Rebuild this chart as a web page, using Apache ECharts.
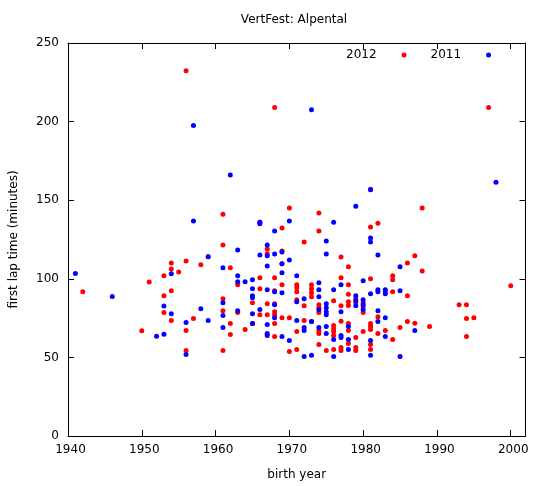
<!DOCTYPE html>
<html>
<head>
<meta charset="utf-8">
<script src="https://cdn.jsdelivr.net/npm/echarts@6/dist/echarts.min.js"></script>
<style>
html,body{margin:0;padding:0;background:#fff;}
#chart{width:534px;height:486px;}
</style>
</head>
<body>
<div id="chart"></div>
<script>
// Birth years and first-lap times (minutes), 2012 (red)
var years2012 = [1942,1950,1951,1953,1953,1953,1954,1954,1954,1954,1955,1956,1956,1956,1956,1957,1958,1959,
  1961,1961,1961,1961,1961,1962,1962,1962,1963,1963,1964,1965,1965,1966,1966,1966,1966,1967,1967,1967,1967,
  1968,1968,1968,1968,1968,1968,1968,1968,1969,1969,1969,1969,1969,1970,1970,1970,1971,1971,1971,1971,1971,1971,
  1972,1972,1972,1973,1973,1973,1973,1973,1974,1974,1974,1974,1974,1974,1974,1974,1975,
  1976,1976,1976,1976,1976,1976,1977,1977,1977,1977,1977,1977,1978,1978,1978,1978,1978,1978,1978,1978,
  1979,1979,1979,1979,1979,1980,1980,1980,1980,1981,1981,1981,1981,1981,1981,1981,1981,1982,1982,1982,
  1983,1983,1984,1984,1984,1984,1985,1986,1986,1986,1987,1987,1988,1988,1989,1993,1994,1994,1994,1995,1997,2000];
var laps2012 = [91.8,67,98,101.9,89.2,78.5,110,106.3,92.4,73.4,104.4,232.3,111.4,67.1,54.4,74.7,108.9,114,
  141.1,121.5,87.3,79.7,54.4,107,71.5,64.6,96.2,78.5,67.7,84.8,71.5,136,100.6,93.7,77.2,119,116,84.2,77.2,
  208.9,100.6,92.4,84.2,79.1,77.2,71.5,63.3,132.3,117.7,109.5,96.2,75.3,145,75.3,53.8,96.2,94.3,91.8,86.7,66.5,55.1,
  123.4,82.9,73.4,96.2,93.7,91.1,88.6,72.8,141.8,130.4,83.5,81.6,78.5,67.1,65.2,58.2,54.4,
  86.1,70.3,68.4,66.5,63.9,55.1,113.9,100.6,82.9,73,56.3,54.4,107.6,96.2,90.2,85.4,83,71.5,67.1,58.9,
  87.3,84.8,62.7,56.3,54.4,84.8,82.3,78.5,66.5,157,132.9,100,71.5,69.6,67.7,58.2,55.1,135.4,75.9,65.2,
  91.8,67.1,101.9,99.4,91.8,61.4,69,110.1,89.2,72.8,114.6,71.8,145,105,69.6,83.5,83.5,74.7,63.3,75.3,208.9,95.6];

// 2011 (blue)
var years2011 = [1941,1946,1952,1953,1953,1954,1954,1956,1956,1957,1957,1958,1959,1959,
  1961,1961,1961,1961,1962,1963,1963,1963,1963,1964,1965,1965,1965,1965,1965,1965,1966,1966,1966,1966,
  1967,1967,1967,1967,1967,1967,1967,1968,1968,1968,1968,1968,1969,1969,1969,1969,1969,1970,1970,1970,
  1971,1971,1971,1972,1972,1972,1972,1973,1973,1973,1974,1974,1974,1974,1974,
  1975,1975,1975,1975,1975,1975,1975,1975,1976,1976,1976,1976,1977,1977,1977,1977,1978,1978,1978,
  1979,1979,1979,1979,1980,1980,1980,1980,1981,1981,1981,1981,1981,1981,1982,1982,1982,1982,1982,
  1983,1983,1983,1983,1985,1985,1985,1987,1998];
var laps2011 = [103.4,88.7,63.4,82.7,64.7,103.2,77.8,72.2,51.9,197.5,136.7,81,114,73.4,
  107,84.8,76.6,69,166,118.4,101.9,98.1,79.7,98.1,99.4,93.7,89.2,88,77.8,71.5,136,135,115.2,80.4,
  121.5,114.6,108.2,93,70.9,65.2,63.9,130.4,115.8,91.8,83.5,75.3,117.1,109.5,103.8,91.1,63.3,136.7,112,60.8,
  101.9,85.4,73.4,87.3,69,67.1,50.6,207.6,72.8,51.3,97.5,93,88.6,80.4,69,
  124,115.8,84.2,81.6,79.1,77.2,69.6,65.2,136,93,61.4,50.6,96.2,79.1,63.9,62.7,69.6,61.4,55.1,
  146.2,89.2,86.1,82.9,98.7,86.7,83.5,80.4,156.7,125.9,123.4,90.5,60.8,51.3,115.2,93,91.8,79.7,72.8,
  93,90.5,75.3,63.3,107.6,92.4,50.6,67.1,161.4];

var seriesNames = ['2012', '2011'];
var xTicks = [1940, 1950, 1960, 1970, 1980, 1990, 2000];
var yTicks = [0, 50, 100, 150, 200, 250];

function zip(xs, ys) { return xs.map(function (x, i) { return [x, ys[i]]; }); }

var FONT = 'DejaVu Sans';
var chart = echarts.init(document.getElementById('chart'), null, {renderer: 'canvas'});

function xAxisCfg(pos, labels) {
  return {
    type: 'value', position: pos, min: 1940, max: 2002, interval: 10,
    axisLine: {show: true, onZero: false, lineStyle: {color: '#000', width: 1}},
    axisTick: {show: true, inside: true, length: 6, lineStyle: {color: '#000'}},
    splitLine: {show: false},
    axisLabel: {show: labels, margin: 8, color: '#000', fontFamily: FONT, fontSize: 12, padding: [0, 0, 0, 5],
      formatter: function (v) { return xTicks.indexOf(v) >= 0 ? String(v) : ''; }},
    name: labels ? 'birth year' : '', nameLocation: 'middle', nameGap: 33,
    nameTextStyle: {color: '#000', fontFamily: FONT, fontSize: 12}
  };
}
function yAxisCfg(pos, labels) {
  return {
    type: 'value', position: pos, min: 0, max: 250, interval: 50,
    axisLine: {show: true, onZero: false, lineStyle: {color: '#000', width: 1}},
    axisTick: {show: true, inside: true, length: 6, lineStyle: {color: '#000'}},
    splitLine: {show: false},
    axisLabel: {show: labels, margin: 9, color: '#000', fontFamily: FONT, fontSize: 12,
      formatter: function (v) { return yTicks.indexOf(v) >= 0 ? String(v) : ''; }},
    name: labels ? 'first lap time (minutes)' : '', nameLocation: 'middle', nameGap: 48,
    nameTextStyle: {color: '#000', fontFamily: FONT, fontSize: 12}
  };
}

chart.setOption({
  animation: false,
  backgroundColor: '#fff',
  title: {
    text: 'VertFest: Alpental', left: 294, top: 14, textAlign: 'center', padding: 0,
    textStyle: {color: '#000', fontFamily: FONT, fontSize: 12, fontWeight: 'normal'}
  },
  legend: {
    data: seriesNames, left: 346, top: 49, padding: 0, align: 'right', icon: 'circle',
    itemWidth: 5, itemHeight: 5, itemGap: 24, selectedMode: false,
    textStyle: {color: '#000', fontFamily: FONT, fontSize: 12, padding: [0, 20, 0, 0]}
  },
  grid: {left: 65, right: 8.5, top: 43, bottom: 47, containLabel: false},
  xAxis: [xAxisCfg('bottom', true), xAxisCfg('top', false)],
  yAxis: [yAxisCfg('left', true), yAxisCfg('right', false)],
  series: [
    {name: seriesNames[0], type: 'scatter', symbol: 'circle', symbolSize: 5, xAxisIndex: 0, yAxisIndex: 0,
      itemStyle: {color: '#ff0000', opacity: 1}, data: zip(years2012, laps2012), silent: true},
    {name: seriesNames[1], type: 'scatter', symbol: 'circle', symbolSize: 5, xAxisIndex: 0, yAxisIndex: 0,
      itemStyle: {color: '#0000ff', opacity: 1}, data: zip(years2011, laps2011), silent: true}
  ]
});
</script>
</body>
</html>
